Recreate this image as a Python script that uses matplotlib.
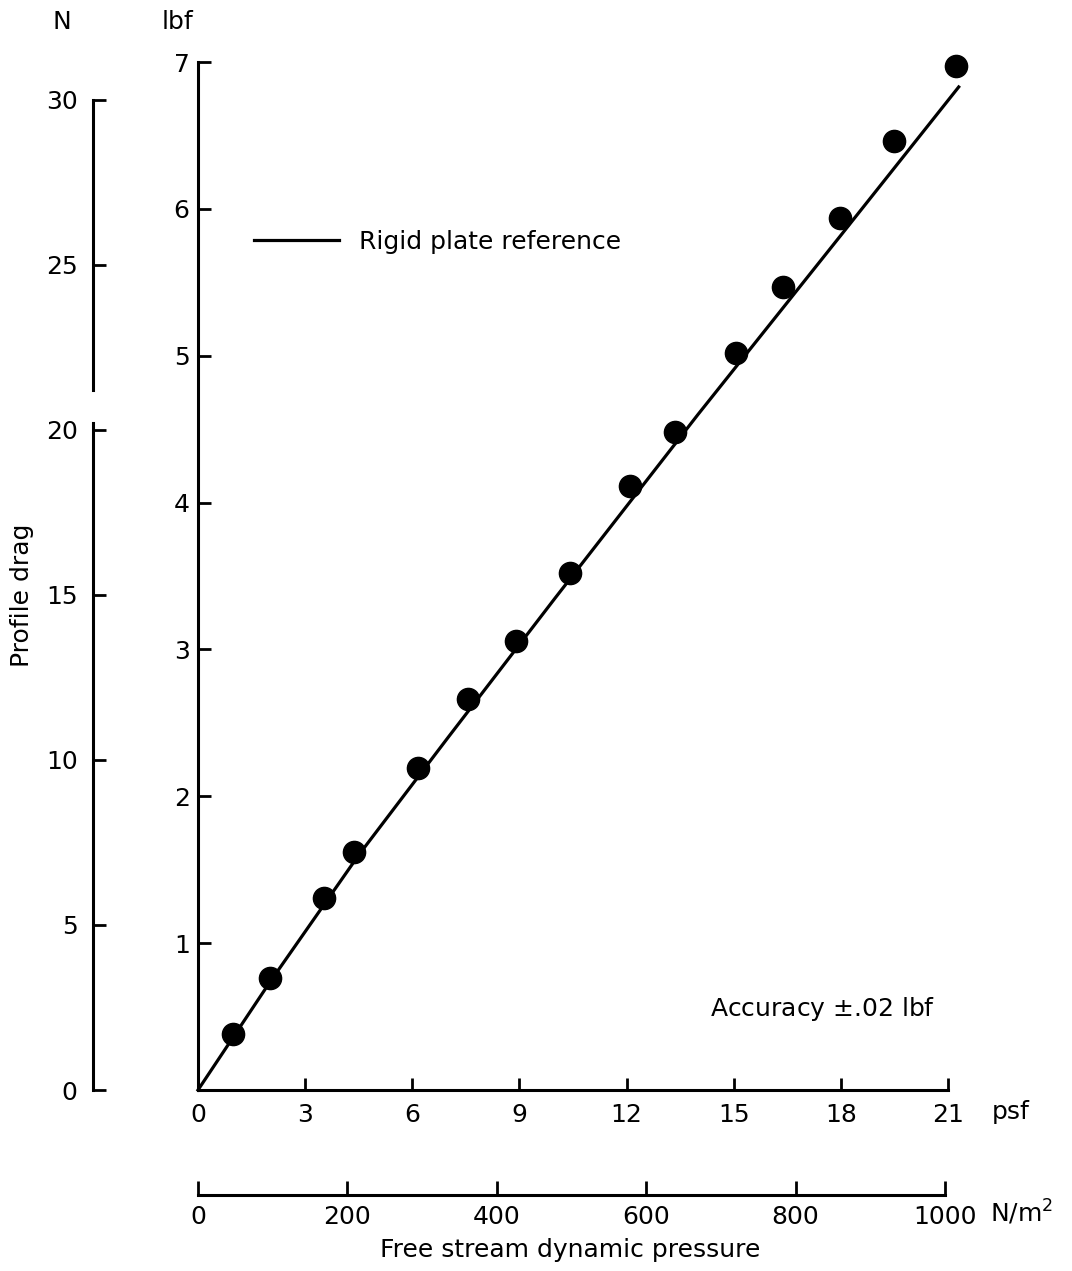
import numpy as np
import matplotlib
matplotlib.use("Agg")
import matplotlib.pyplot as plt

# measured points (psf, lbf)
q_psf = [0.98, 2.02, 3.53, 4.37, 6.16, 7.56, 8.9, 10.42, 12.1, 13.36, 15.07, 16.38, 17.98, 19.49, 21.23]
drag_lbf = [0.38, 0.76, 1.31, 1.62, 2.19, 2.66, 3.06, 3.52, 4.11, 4.48, 5.02, 5.47, 5.94, 6.46, 6.97]

# rigid plate reference curve
ref_psf = [0.0, 2.0, 4.5, 7.0, 10.0, 14.0, 18.0, 21.3]
ref_lbf = [0.0, 0.73, 1.6, 2.4, 3.35, 4.6, 5.82, 6.83]

psf_ticks = [0, 3, 6, 9, 12, 15, 18, 21]
lbf_ticks = [1, 2, 3, 4, 5, 6, 7]
n_ticks = [0, 5, 10, 15, 20, 25, 30]
nm2_ticks = [0, 200, 400, 600, 800, 1000]

LBF_TO_N = 4.448

plt.rcParams['font.family'] = 'DejaVu Sans'
fs = 18
lw_sp = 2.2

W, H = 1072, 1271
fig = plt.figure(figsize=(W / 100, H / 100), dpi=100)

def rect(x0, y_bot, x1, y_top):
    return [x0 / W, 1 - y_bot / H, (x1 - x0) / W, (y_bot - y_top) / H]

# main axes
ax = fig.add_axes(rect(198, 1090, 948, 62))
ax.set_xlim(0, 21)
ax.set_ylim(0, 7)
for s in ['top', 'right']:
    ax.spines[s].set_visible(False)
for s in ['left', 'bottom']:
    ax.spines[s].set_linewidth(lw_sp)
ax.set_xticks(psf_ticks)
ax.set_yticks(lbf_ticks)
ax.tick_params(direction='in', length=9, width=2, labelsize=fs, pad=9)
ax.tick_params(axis='y', pad=6)

ax.plot(ref_psf, ref_lbf, color='black', lw=2.3, clip_on=False, label='Rigid plate reference')
ax.plot(q_psf, drag_lbf, 'o', color='black', ms=16, clip_on=False, zorder=5)

ax.legend(loc='upper left', bbox_to_anchor=(0.075, 0.837), frameon=False, fontsize=fs,
          handlelength=3.4, handletextpad=0.8, borderpad=0, borderaxespad=0)
ax.text(20.64, 0.55, 'Accuracy $\\pm$.02 lbf', ha='right', va='center', fontsize=fs)
ax.text(22.75, -0.15, 'psf', ha='center', va='center', fontsize=fs)

# N axis on the left, in two pieces
for lo, hi in [(0, 20.2), (21.2, 30)]:
    axn = fig.add_axes(rect(93, 1090, 94, 62))
    axn.set_ylim(0, 7 * LBF_TO_N)
    axn.patch.set_visible(False)
    for s in ['top', 'right', 'bottom']:
        axn.spines[s].set_visible(False)
    axn.spines['left'].set_linewidth(lw_sp)
    axn.spines['left'].set_bounds(lo, hi)
    axn.set_xticks([])
    axn.set_yticks([t for t in n_ticks if lo - 0.5 <= t <= hi])
    axn.tick_params(direction='in', length=9, width=2, labelsize=fs, pad=11)

# N/m2 axis underneath
axp = fig.add_axes(rect(198, 1195, 945, 1194))
axp.set_xlim(0, 1000)
axp.patch.set_visible(False)
for s in ['top', 'right', 'left']:
    axp.spines[s].set_visible(False)
axp.spines['bottom'].set_linewidth(lw_sp)
axp.set_yticks([])
axp.set_xticks(nm2_ticks)
axp.tick_params(direction='in', length=10, width=2, labelsize=fs, pad=7)

fig.text(62 / W, 1 - 22 / H, 'N', ha='center', va='center', fontsize=fs)
fig.text(178 / W, 1 - 22 / H, 'lbf', ha='center', va='center', fontsize=fs)
fig.text(22 / W, 1 - 595 / H, 'Profile drag', ha='center', va='center', rotation=90, fontsize=fs)
fig.text(1022 / W, 1 - 1212 / H, 'N/m$^2$', ha='center', va='center', fontsize=fs)
fig.text(570 / W, 1 - 1250 / H, 'Free stream dynamic pressure', ha='center', va='center', fontsize=fs)

fig.savefig('out.png', dpi=100)
